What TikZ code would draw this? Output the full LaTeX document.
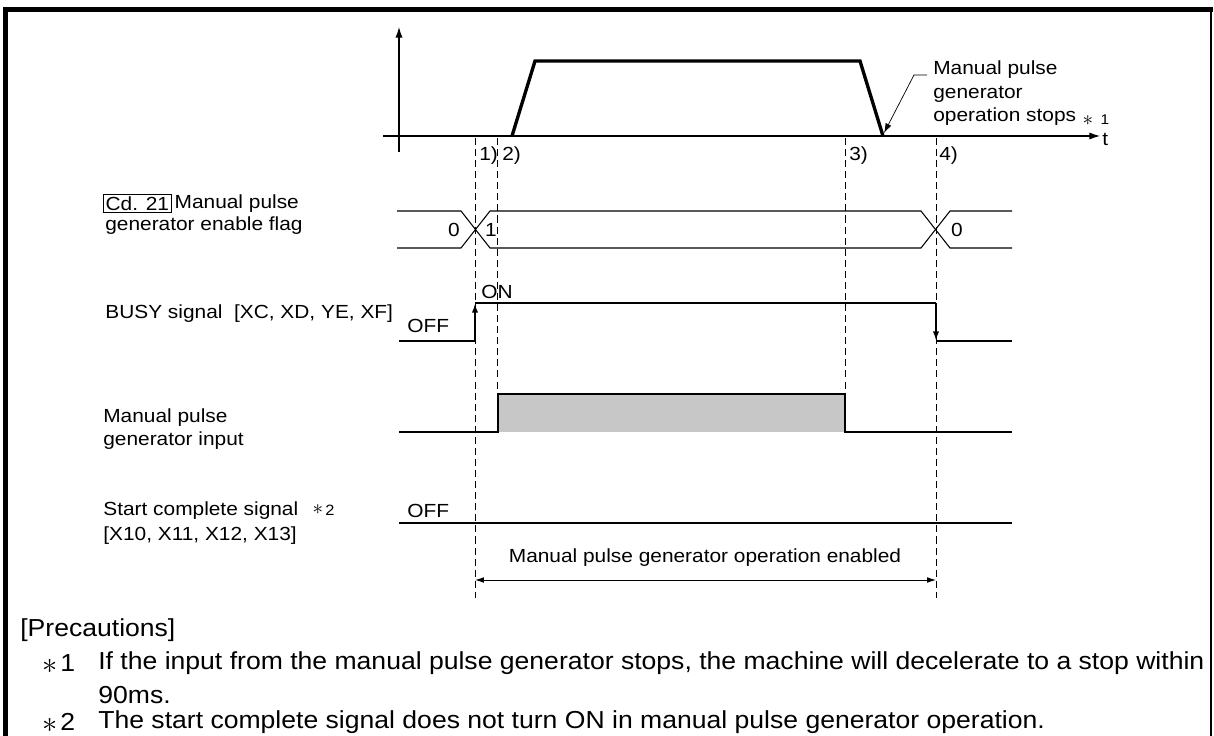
\documentclass[tikz,border=0pt]{standalone}
\usepackage{fontspec}
\setmainfont{Liberation Sans}[FakeStretch=1.1]
\newfontfamily\notefont{Liberation Sans}[FakeStretch=1.08]
\usetikzlibrary{arrows.meta,positioning,calc}

\begin{document}
\begin{tikzpicture}[
  x=0.02cm,y=-0.02cm,
  font=\fontsize{10.8}{13.4}\selectfont,
  lbl/.style={anchor=west,inner sep=0pt,align=left},
  tlab/.style={anchor=west,inner sep=0pt},
  note/.style={anchor=west,inner sep=0pt,font=\notefont\fontsize{14}{16.7}\selectfont},
  star/.style={inner sep=0pt,font=\fontsize{18}{18}\selectfont},
  sig/.style={line width=1.1pt},
  flag/.style={line width=0.6pt},
  speed/.style={line width=1.9pt,line join=miter},
  guide/.style={line width=0.5pt,dash pattern=on 4pt off 2.3pt},
  ar/.style={-{Latex[length=6pt,width=4pt]}},
  sar/.style={-{Latex[length=5.5pt,width=3.6pt]}}
]
\useasboundingbox (0,0) rectangle (1214,736);

% frame
\draw[line width=2.8pt] (3,9.5) -- (1213,9.5);
\draw[line width=2.5pt] (5.5,8) -- (5.5,736);
\draw[line width=0.6pt] (1211,9.5) -- (1211,736);

% time points
\coordinate (t1) at (475,138);
\coordinate (t2) at (497,138);
\coordinate (t3) at (845,138);
\coordinate (t4) at (936,138);

% speed axes and trapezoid
\coordinate (org) at (399,136);
\draw[flag,ar] (399,152) -- (399,27);
\draw[flag,ar] (383,136) -- (1100,136);
\node[tlab] (tlbl) at (1102,139) {t};
\draw[speed] (512,136) -- (535,61) -- (860,61) -- (883,136);
\node[lbl] (stopnote) at (933,93.5) {Manual pulse\\generator\\operation stops};
\node[inner sep=0pt,font=\fontsize{13}{13}\selectfont] (ast1) at (1088,121) {$\ast$};
\node[inner sep=0pt,font=\fontsize{8}{8}\selectfont] (ast1n) at (1105,120) {1};
\draw[line width=0.4pt,sar] (927,75) -- (914,75) -- (884,133);

% dashed guides
\draw[guide] (t1) -- (475,598);
\draw[guide] (t2) -- (497,394);
\draw[guide] (t3) -- (845,394);
\draw[guide] (t4) -- (936,598);
\node[tlab] (m1) at (479,156) {1)};
\node[tlab] (m2) at (502,156) {2)};
\node[tlab] (m3) at (849,156) {3)};
\node[tlab] (m4) at (939,156) {4)};

% Cd. 21 flag
\node[draw,line width=0.6pt,inner sep=1.2pt,anchor=west] (cd) at (103,203.5) {Cd. 21};
\node[lbl] (cdtxt) at ([xshift=1.5pt]cd.east) {Manual pulse};
\node[lbl] (cdtxt2) at (105,226) {generator enable flag};
\draw[flag] (397,211) -- (461,211) -- (490,248) -- (921,248) -- (950,211) -- (1012,211);
\draw[flag] (397,248) -- (461,248) -- (490,211) -- (921,211) -- (950,248) -- (1012,248);
\node (f0) at (454,230) {0};
\node (f1) at (491,230) {1};
\node (f2) at (957,230) {0};

% BUSY signal
\node[lbl] (busy) at (105,314) {BUSY signal\ \ [XC, XD, YE, XF]};
\node[tlab] (boff) at (407,326) {OFF};
\node[tlab] (bon) at (481,292) {ON};
\draw[sig] (399,341) -- (475,341);
\draw[sig,sar] (475,341) -- (475,303);
\draw[sig] (475,303) -- (936,303);
\draw[sig,sar] (936,303) -- (936,341);
\draw[sig] (936,341) -- (1012,341);

% manual pulse generator input
\node[lbl] (mpg) at (103,429) {Manual pulse\\generator input};
\fill[black!22] (498,394) rectangle (845,432);
\draw[sig] (399,432) -- (498,432) -- (498,394) -- (845,394) -- (845,432) -- (1012,432);

% start complete signal
\node[lbl] (stc) at (103,511) {Start complete signal};
\node[inner sep=0pt,font=\fontsize{13}{13}\selectfont] (ast2) at (318,510) {$\ast$};
\node[inner sep=0pt,font=\fontsize{8.5}{8.5}\selectfont] (ast2n) at (330,510) {2};
\node[lbl] (stc2) at (103,536) {[X10, X11, X12, X13]};
\node[tlab] (soff) at (407,511) {OFF};
\draw[sig] (399,523) -- (1012,523);

% enabled range
\draw[line width=0.5pt,{Latex[length=5pt,width=3.2pt]}-{Latex[length=5pt,width=3.2pt]}] (475,580) -- (936,580);
\node (enab) at (705,558) {Manual pulse generator operation enabled};

% precautions
\node[note] (prec) at (20,630) {[Precautions]};
\node[star] (n1s) at (50,666) {$\ast$};
\node[note] (n1) at (60,663) {1};
\node[note] (n1t) at (98,663) {If the input from the manual pulse generator stops, the machine will decelerate to a stop within};
\node[note] (n1u) at (98,695) {90ms.};
\node[star] (n2s) at (50,725) {$\ast$};
\node[note] (n2) at (60,722) {2};
\node[note] (n2t) at (98,722) {The start complete signal does not turn ON in manual pulse generator operation.};
\end{tikzpicture}
\end{document}
